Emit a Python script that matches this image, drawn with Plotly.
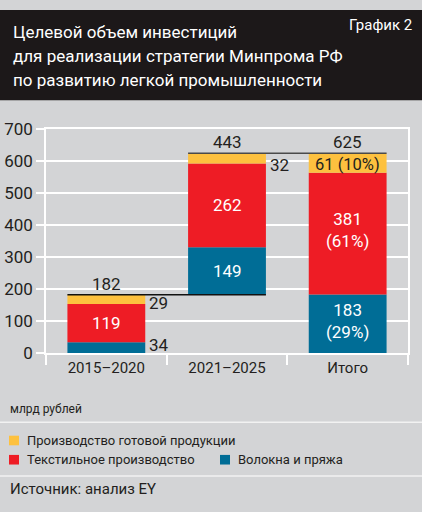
import plotly.graph_objects as go

# ---- data ----
categories = ["2015–2020", "2021–2025", "Итого"]
fiber = [34, 149, 183]          # Волокна и пряжа
textile = [119, 262, 381]       # Текстильное производство
finished = [29, 32, 61]         # Производство готовой продукции
totals = [182, 443, 625]
shares_total = {"fiber": "29%", "textile": "61%", "finished": "10%"}
y_ticks = [0, 100, 200, 300, 400, 500, 600, 700]

series_names = ["Волокна и пряжа", "Текстильное производство", "Производство готовой продукции"]
colors = ["#006d96", "#ee1c25", "#fdc13f"]

W, H = 422, 512
FONT = "Roboto, sans-serif"
DARK = "#231f20"
BG = "#d3d4d6"
BAR_W = 0.645

def px(x):
    return x / W

def py(y):
    return 1 - y / H

# floating base: middle bar starts at the first bar's total
offsets = [0, totals[0], 0]
base_fiber = offsets
base_textile = [o + f for o, f in zip(offsets, fiber)]
base_finished = [b + t for b, t in zip(base_textile, textile)]

fig = go.Figure()
for name, vals, base, col in [
    (series_names[0], fiber, base_fiber, colors[0]),
    (series_names[1], textile, base_textile, colors[1]),
    (series_names[2], finished, base_finished, colors[2]),
]:
    fig.add_trace(go.Bar(
        x=categories, y=vals, base=base, name=name,
        marker=dict(color=col, line=dict(width=0)),
        width=BAR_W, showlegend=False, hoverinfo="skip",
    ))

ann = []
shapes = []

def lab(x, y, text, color=DARK, size=17, xanchor="center", yanchor="middle", xshift=0, yshift=0):
    ann.append(dict(x=x, y=y, xref="x", yref="y", text=text, showarrow=False,
                    font=dict(family=FONT, size=size, color=color),
                    xanchor=xanchor, yanchor=yanchor, xshift=xshift, yshift=yshift))

# labels inside bars
lab(categories[0], base_textile[0] + textile[0] / 2, str(textile[0]), "white")
lab(categories[1], base_textile[1] + textile[1] / 2, str(textile[1]), "white")
lab(categories[1], base_fiber[1] + fiber[1] / 2, str(fiber[1]), "white")
lab(categories[2], base_textile[2] + textile[2] / 2 + 10,
    f"{textile[2]}<br>({shares_total['textile']})", "white")
lab(categories[2], base_fiber[2] + fiber[2] / 2 + 8,
    f"{fiber[2]}<br>({shares_total['fiber']})", "white")
lab(categories[2], base_finished[2] + finished[2] / 2 - 6,
    f"{finished[2]} ({shares_total['finished']})", DARK, size=16.5)

# labels outside bars (right side)
lab(0 + BAR_W / 2, base_finished[0] + finished[0] / 2, str(finished[0]), xanchor="left", xshift=2, yshift=-4)
lab(0 + BAR_W / 2, base_fiber[0] + fiber[0] / 2, str(fiber[0]), xanchor="left", xshift=2, yshift=3)
lab(1 + BAR_W / 2, base_finished[1] + finished[1] / 2, str(finished[1]), xanchor="left", xshift=2, yshift=-7)

# totals
lab(categories[0], totals[0], str(totals[0]), yanchor="bottom", yshift=-1)
lab(categories[1], totals[2], str(totals[1]), yanchor="bottom", yshift=-1)
lab(categories[2], totals[2], str(totals[2]), yanchor="bottom", yshift=-1)

# connector lines
shapes.append(dict(type="line", xref="x", yref="y", x0=0 - BAR_W / 2, x1=1 + BAR_W / 2,
                   y0=totals[0], y1=totals[0], line=dict(color="#111111", width=1.5)))
shapes.append(dict(type="line", xref="x", yref="y", x0=1 - BAR_W / 2, x1=2 + BAR_W / 2,
                   y0=totals[2], y1=totals[2], line=dict(color="#4a4a4a", width=1.5)))

# header
shapes.append(dict(type="rect", xref="paper", yref="paper", x0=0, x1=1, y0=py(94), y1=1,
                   fillcolor="#1c1819", line=dict(width=0), layer="below"))
title_lines = ["Целевой объем инвестиций",
               "для реализации стратегии Минпрома РФ",
               "по развитию легкой промышленности"]
for i, t in enumerate(title_lines):
    ann.append(dict(x=px(11), y=py(23 + 25 * i), xref="paper", yref="paper", text=t,
                    showarrow=False, xanchor="left", yanchor="middle",
                    font=dict(family=FONT, size=17, color="white")))
ann.append(dict(x=px(414), y=py(16), xref="paper", yref="paper", text="График 2",
                showarrow=False, xanchor="right", yanchor="middle",
                font=dict(family=FONT, size=15, color="white")))

# unit label
ann.append(dict(x=px(8), y=py(415), xref="paper", yref="paper", text="млрд рублей",
                showarrow=False, xanchor="left", yanchor="middle",
                font=dict(family=FONT, size=12, color=DARK)))

# dividers
for yy in (429, 485):
    shapes.append(dict(type="line", xref="paper", yref="paper", x0=0, x1=1, y0=py(yy), y1=py(yy),
                       line=dict(color="#f2f2f2", width=1.5)))

# legend (custom layout)
legend_items = [
    (series_names[2], colors[2], 9, 448),
    (series_names[1], colors[1], 9, 468),
    (series_names[0], colors[0], 220, 468),
]
for name, col, x0, yc in legend_items:
    shapes.append(dict(type="rect", xref="paper", yref="paper", x0=px(x0), x1=px(x0 + 10),
                       y0=py(yc + 5), y1=py(yc - 5), fillcolor=col, line=dict(width=0)))
    ann.append(dict(x=px(x0 + 16), y=py(yc), xref="paper", yref="paper", text=name,
                    showarrow=False, xanchor="left", yanchor="middle",
                    font=dict(family=FONT, size=13, color=DARK)))

# source
ann.append(dict(x=px(8), y=py(498), xref="paper", yref="paper", text="Источник: анализ EY",
                showarrow=False, xanchor="left", yanchor="middle",
                font=dict(family=FONT, size=15, color=DARK)))

fig.update_layout(
    width=W, height=H, margin=dict(l=0, r=0, t=0, b=0),
    paper_bgcolor=BG, plot_bgcolor=BG,
    barmode="overlay", showlegend=False,
    annotations=ann, shapes=shapes,
    xaxis=dict(domain=[px(46), px(408)], type="category", tickson="boundaries",
               ticks="outside", ticklen=10, tickcolor="white", tickwidth=1.5,
               showline=True, linecolor="white", linewidth=1.5, mirror=True,
               showgrid=False, tickfont=dict(family=FONT, size=15, color=DARK)),
    yaxis=dict(domain=[py(357), py(124)], range=[0, 700], tickvals=y_ticks,
               ticks="outside", ticklen=8, tickcolor="white", tickwidth=1.5,
               showline=True, linecolor="white", linewidth=1.5, mirror=True,
               showgrid=True, gridcolor="white", gridwidth=1.5, zeroline=False,
               tickfont=dict(family=FONT, size=17, color=DARK)),
)

fig.write_html("out.html", config={"displayModeBar": False},
               post_script="document.body.style.margin='0';document.body.style.overflow='hidden';")
